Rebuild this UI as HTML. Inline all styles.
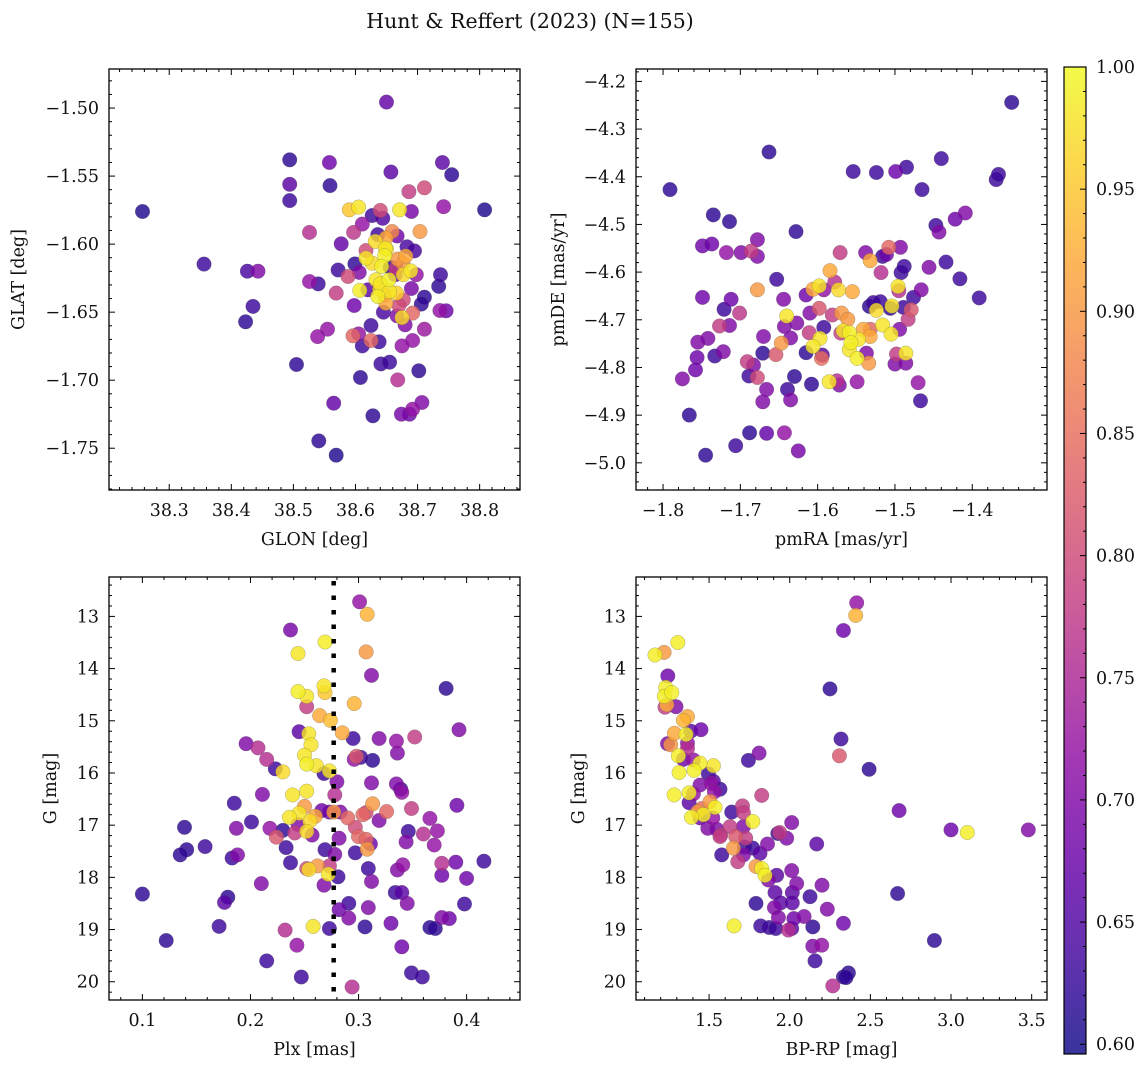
<!DOCTYPE html>
<html><head><meta charset="utf-8">
<style>
html,body{margin:0;padding:0;background:#fff;}
svg{display:block;font-family:"DejaVu Serif","Liberation Serif",serif;}
</style></head>
<body>
<svg id="fig" width="1148" height="1067" viewBox="0 0 1148 1067" xmlns="http://www.w3.org/2000/svg">
<rect width="1148" height="1067" fill="#fff"/>
<text x="530" y="28" font-size="20.5" text-anchor="middle" fill="#111">Hunt &amp; Reffert (2023) (N=155)</text>
<g id="layer"></g>
</svg>
<script>
// ---------- Panel 1: GLON vs GLAT ----------
const p1Glon=[38.257,38.650,38.494,38.558,38.494,38.559,38.494,38.657,38.740,38.755,38.686,38.711,38.808,38.742,38.690,38.671,38.590,38.605,38.640,38.627,38.644,38.611,38.526,38.597,38.659,38.704,38.667,38.577,38.632,38.649,38.636,38.683,38.695,38.617,38.650,38.681,38.647,38.617,38.627,38.599,38.642,38.656,38.676,38.572,38.606,38.689,38.698,38.737,38.588,38.664,38.677,38.526,38.540,38.633,38.654,38.640,38.734,38.690,38.607,38.620,38.639,38.655,38.569,38.666,38.636,38.711,38.677,38.649,38.598,38.706,38.645,38.736,38.746,38.667,38.675,38.692,38.680,38.625,38.711,38.555,38.539,38.596,38.605,38.625,38.638,38.611,38.692,38.675,38.505,38.641,38.655,38.702,38.608,38.668,38.565,38.707,38.692,38.674,38.687,38.628,38.541,38.569,38.356,38.426,38.443,38.435,38.423,38.648,38.668,38.647,38.670,38.665];
const p1Glat=[-1.576,-1.4956,-1.538,-1.540,-1.556,-1.557,-1.568,-1.547,-1.540,-1.549,-1.5615,-1.5586,-1.5748,-1.5725,-1.576,-1.5748,-1.5748,-1.5728,-1.5752,-1.579,-1.581,-1.5853,-1.5914,-1.5914,-1.5907,-1.5907,-1.594,-1.5998,-1.598,-1.5956,-1.593,-1.602,-1.605,-1.6047,-1.6037,-1.6088,-1.6086,-1.6103,-1.614,-1.6145,-1.6164,-1.617,-1.614,-1.619,-1.6208,-1.6196,-1.6225,-1.6225,-1.6238,-1.6225,-1.6225,-1.6275,-1.6292,-1.6262,-1.6262,-1.6292,-1.6311,-1.6326,-1.634,-1.6336,-1.633,-1.6348,-1.636,-1.636,-1.6385,-1.639,-1.641,-1.6434,-1.6451,-1.6441,-1.65,-1.6488,-1.649,-1.6527,-1.654,-1.6507,-1.6593,-1.6598,-1.6625,-1.6625,-1.668,-1.6674,-1.666,-1.6708,-1.6718,-1.6748,-1.6708,-1.6748,-1.6885,-1.688,-1.6868,-1.6931,-1.698,-1.6998,-1.7169,-1.7164,-1.7213,-1.725,-1.725,-1.7262,-1.7446,-1.7551,-1.6147,-1.6199,-1.6199,-1.6458,-1.6571,-1.603,-1.611,-1.6375,-1.645,-1.618];
const p1Prob=[.61,.67,.62,.68,.66,.62,.63,.66,.66,.62,.78,.80,.61,.72,.69,.98,.95,.98,.80,.63,.65,.72,.76,.77,.88,.90,.68,.67,.97,.92,.63,.64,.64,.80,.98,.92,.99,.98,.97,.62,.99,.62,.90,.63,.70,.98,.72,.63,.80,.68,.97,.72,.63,.98,.99,.98,.62,.69,.99,.66,.97,.98,.78,.96,.99,.62,.80,.92,.68,.62,.64,.72,.68,.70,.97,.84,.70,.63,.73,.72,.72,.84,.72,.84,.63,.63,.72,.72,.62,.63,.63,.62,.62,.76,.67,.70,.72,.69,.68,.62,.62,.61,.63,.64,.70,.63,.62,.98,.90,.90,.80,.78];
const p1XTicks=[38.3,38.4,38.5,38.6,38.7,38.8];
const p1YTicks=[-1.50,-1.55,-1.60,-1.65,-1.70,-1.75];

// ---------- Panel 2: pmRA vs pmDE ----------
const p2PmRA=[-1.791,-1.663,-1.349,-1.735,-1.714,-1.628,-1.749,-1.737,-1.718,-1.699,-1.686,-1.678,-1.678,-1.653,-1.678,-1.749,-1.712,-1.721,-1.701,-1.727,-1.714,-1.742,-1.755,-1.722,-1.733,-1.756,-1.758,-1.775,-1.766,-1.745,-1.706,-1.688,-1.666,-1.643,-1.625,-1.691,-1.683,-1.671,-1.670,-1.689,-1.678,-1.666,-1.671,-1.654,-1.647,-1.644,-1.643,-1.640,-1.635,-1.639,-1.635,-1.630,-1.627,-1.615,-1.610,-1.611,-1.615,-1.608,-1.606,-1.598,-1.598,-1.597,-1.606,-1.592,-1.594,-1.595,-1.592,-1.584,-1.585,-1.581,-1.578,-1.573,-1.572,-1.575,-1.571,-1.569,-1.570,-1.567,-1.561,-1.555,-1.559,-1.559,-1.557,-1.549,-1.549,-1.547,-1.554,-1.541,-1.538,-1.537,-1.532,-1.534,-1.532,-1.532,-1.533,-1.528,-1.524,-1.524,-1.519,-1.516,-1.518,-1.516,-1.511,-1.508,-1.506,-1.504,-1.505,-1.500,-1.499,-1.498,-1.496,-1.495,-1.494,-1.493,-1.492,-1.489,-1.488,-1.486,-1.486,-1.485,-1.483,-1.479,-1.476,-1.470,-1.467,-1.466,-1.465,-1.456,-1.447,-1.443,-1.440,-1.434,-1.422,-1.409,-1.416,-1.391,-1.369,-1.366];
const p2PmDE=[-4.427,-4.348,-4.244,-4.480,-4.494,-4.515,-4.545,-4.541,-4.559,-4.559,-4.556,-4.532,-4.567,-4.615,-4.637,-4.653,-4.657,-4.678,-4.686,-4.713,-4.712,-4.739,-4.747,-4.767,-4.776,-4.779,-4.805,-4.824,-4.900,-4.984,-4.964,-4.937,-4.938,-4.937,-4.975,-4.788,-4.795,-4.770,-4.735,-4.818,-4.821,-4.846,-4.872,-4.773,-4.749,-4.657,-4.714,-4.692,-4.738,-4.846,-4.868,-4.819,-4.707,-4.648,-4.686,-4.727,-4.769,-4.835,-4.636,-4.629,-4.676,-4.739,-4.756,-4.716,-4.774,-4.781,-4.637,-4.597,-4.830,-4.690,-4.621,-4.637,-4.837,-4.828,-4.559,-4.686,-4.728,-4.723,-4.699,-4.641,-4.727,-4.763,-4.748,-4.830,-4.781,-4.741,-4.389,-4.720,-4.559,-4.770,-4.576,-4.791,-4.735,-4.720,-4.672,-4.664,-4.391,-4.680,-4.662,-4.711,-4.601,-4.567,-4.563,-4.548,-4.676,-4.671,-4.730,-4.793,-4.389,-4.772,-4.630,-4.639,-4.720,-4.548,-4.601,-4.674,-4.588,-4.770,-4.791,-4.380,-4.699,-4.679,-4.653,-4.832,-4.870,-4.637,-4.427,-4.590,-4.502,-4.516,-4.362,-4.579,-4.489,-4.476,-4.614,-4.654,-4.406,-4.395];
const p2Prob=[.62,.62,.62,.62,.62,.62,.68,.68,.72,.70,.78,.70,.70,.63,.90,.68,.68,.63,.77,.78,.70,.70,.70,.70,.63,.68,.68,.70,.62,.62,.63,.62,.67,.72,.69,.78,.70,.62,.70,.63,.80,.70,.70,.82,.90,.70,.70,.98,.70,.63,.70,.62,.70,.68,.70,.78,.62,.62,.92,.98,.82,.98,.98,.63,.66,.85,.72,.92,.98,.78,.76,.97,.70,.76,.78,.90,.78,.98,.90,.92,.99,.98,.99,.72,.99,.98,.63,.92,.70,.70,.92,.90,.92,.84,.62,.63,.63,.97,.63,.98,.76,.63,.68,.84,.62,.98,.98,.70,.68,.78,.98,.76,.70,.70,.63,.63,.63,.98,.70,.63,.78,.82,.63,.72,.63,.70,.63,.70,.63,.70,.63,.63,.68,.70,.63,.63,.63,.63];
const p2XTicks=[-1.8,-1.7,-1.6,-1.5,-1.4];
const p2YTicks=[-4.2,-4.3,-4.4,-4.5,-4.6,-4.7,-4.8,-4.9,-5.0];

// ---------- Panel 3: Plx vs G ----------
const p3Plx=[0.301,0.308,0.237,0.269,0.244,0.307,0.312,0.381,0.244,0.252,0.268,0.269,0.296,0.252,0.264,0.274,0.285,0.245,0.254,0.256,0.295,0.319,0.335,0.352,0.393,0.196,0.207,0.250,0.252,0.261,0.215,0.223,0.230,0.268,0.273,0.298,0.302,0.296,0.313,0.336,0.280,0.312,0.335,0.339,0.340,0.278,0.211,0.185,0.239,0.252,0.250,0.313,0.326,0.349,0.391,0.266,0.273,0.277,0.283,0.304,0.307,0.319,0.290,0.260,0.255,0.245,0.236,0.201,0.187,0.218,0.230,0.241,0.244,0.252,0.257,0.224,0.297,0.300,0.307,0.282,0.311,0.308,0.346,0.366,0.360,0.373,0.344,0.370,0.139,0.141,0.135,0.158,0.183,0.188,0.233,0.237,0.269,0.278,0.297,0.252,0.254,0.262,0.273,0.272,0.281,0.309,0.312,0.268,0.210,0.336,0.341,0.377,0.390,0.416,0.377,0.400,0.334,0.340,0.345,0.398,0.100,0.179,0.176,0.291,0.282,0.309,0.291,0.377,0.384,0.330,0.171,0.258,0.273,0.306,0.366,0.371,0.232,0.122,0.243,0.340,0.215,0.349,0.359,0.247,0.294];
const p3G=[12.72,12.96,13.26,13.49,13.71,13.68,14.13,14.38,14.44,14.53,14.33,14.46,14.67,14.73,14.90,14.99,15.23,15.21,15.25,15.46,15.34,15.34,15.39,15.31,15.17,15.44,15.52,15.66,15.83,15.86,15.74,15.92,15.98,16.01,15.96,15.68,15.70,15.74,15.76,15.62,16.17,16.19,16.21,16.31,16.37,16.42,16.41,16.58,16.42,16.35,16.64,16.59,16.74,16.68,16.62,16.72,16.75,16.75,16.75,16.80,16.76,16.91,16.86,16.83,16.92,16.77,16.85,16.94,17.06,17.06,17.10,17.15,16.99,17.12,17.19,17.23,17.04,17.22,17.27,17.25,17.36,17.46,17.12,16.87,17.17,17.11,17.32,17.38,17.04,17.47,17.57,17.41,17.63,17.57,17.43,17.72,17.47,17.56,17.53,17.83,17.85,17.78,17.78,17.94,17.99,17.83,18.08,18.15,18.12,17.86,17.76,17.73,17.71,17.69,17.96,18.02,18.29,18.29,18.50,18.51,18.32,18.38,18.48,18.50,18.62,18.58,18.78,18.77,18.79,18.88,18.94,18.94,18.98,18.95,18.96,18.98,19.01,19.21,19.30,19.33,19.60,19.83,19.91,19.91,20.10];
const p3Prob=[.72,.93,.69,.99,.98,.90,.70,.62,.99,.98,.98,.95,.93,.78,.92,.94,.92,.66,.98,.98,.63,.70,.72,.78,.70,.70,.76,.98,.99,.98,.76,.63,.97,.63,.98,.82,.63,.72,.62,.70,.70,.70,.70,.63,.72,.76,.70,.63,.98,.98,.90,.90,.84,.78,.68,.68,.68,.90,.70,.84,.80,.70,.84,.92,.97,.98,.98,.63,.70,.72,.62,.78,.70,.97,.70,.82,.80,.84,.84,.70,.68,.90,.63,.72,.76,.72,.70,.72,.62,.62,.62,.63,.63,.70,.63,.63,.63,.70,.63,.80,.97,.90,.78,.98,.63,.63,.70,.70,.70,.70,.72,.76,.68,.63,.68,.68,.63,.66,.70,.63,.62,.62,.66,.63,.68,.70,.70,.70,.68,.68,.63,.98,.63,.62,.62,.62,.76,.62,.72,.68,.63,.63,.63,.63,.76];
const p3XTicks=[0.1,0.2,0.3,0.4];
const p3YTicks=[13,14,15,16,17,18,19,20];
const p3PlxMedian=[0.277];

// ---------- Panel 4: BP-RP vs G ----------
const p4Color=[1.165,1.221,1.306,2.409,2.415,2.333,2.250,1.244,1.231,1.223,1.269,1.238,1.227,1.295,1.366,1.341,1.285,1.357,1.386,1.450,1.242,1.262,1.366,1.366,1.310,1.341,1.403,1.444,1.314,1.407,1.527,1.496,1.527,1.568,1.444,1.512,1.533,1.403,1.376,1.283,1.376,1.506,1.537,1.455,1.430,1.465,1.391,1.444,1.523,1.640,1.707,1.713,1.771,1.810,1.744,1.826,1.492,1.548,1.572,1.630,1.713,1.568,1.665,1.727,1.651,1.578,1.719,1.771,1.713,1.678,1.816,1.862,1.926,1.938,1.981,2.012,2.167,1.791,1.826,1.847,1.868,1.919,2.012,2.043,1.909,2.016,1.791,1.944,2.016,2.126,2.200,2.233,1.905,1.930,2.025,2.089,1.820,1.873,1.914,1.992,2.012,2.143,1.655,2.333,2.143,2.198,2.157,2.333,2.364,2.349,2.267,2.318,2.308,2.492,2.678,3.000,3.101,3.479,2.669,2.897];
const p4G=[13.74,13.69,13.50,12.98,12.74,13.27,14.39,14.14,14.36,14.53,14.46,14.69,14.74,14.73,14.92,14.99,15.24,15.26,15.20,15.17,15.44,15.46,15.43,15.53,15.67,15.74,15.75,15.81,15.99,15.95,15.86,16.02,16.16,16.31,16.23,16.20,16.36,16.40,16.38,16.42,16.57,16.55,16.66,16.68,16.74,16.80,16.85,16.86,16.86,16.75,16.63,16.76,16.93,15.62,15.76,16.43,17.06,17.08,17.19,17.03,17.03,17.22,17.22,17.25,17.44,17.57,17.42,17.44,17.57,17.70,17.54,17.36,17.16,17.14,17.25,16.95,17.36,17.79,17.83,17.96,18.05,17.96,17.87,18.12,18.29,18.29,18.50,18.49,18.49,18.37,18.15,18.61,18.58,18.77,18.79,18.75,18.93,18.96,18.98,19.01,18.98,18.95,18.93,18.88,19.32,19.30,19.60,19.91,19.83,19.92,20.08,15.35,15.67,15.93,16.72,17.09,17.14,17.09,18.31,19.21];
const p4Prob=[.99,.90,.99,.93,.72,.68,.62,.68,.99,.99,.99,.92,.78,.70,.92,.93,.92,.99,.66,.68,.70,.90,.72,.76,.99,.68,.72,.99,.99,.99,.98,.63,.66,.63,.70,.72,.72,.72,.99,.99,.66,.90,.99,.85,.90,.99,.99,.68,.72,.63,.78,.78,.99,.70,.63,.78,.70,.70,.78,.78,.70,.78,.82,.78,.90,.63,.63,.63,.70,.78,.66,.70,.63,.78,.70,.70,.66,.90,.99,.99,.70,.66,.70,.70,.66,.66,.62,.66,.66,.63,.70,.70,.70,.70,.68,.70,.63,.63,.63,.76,.66,.62,.99,.68,.70,.72,.63,.62,.62,.62,.76,.63,.82,.62,.68,.68,.99,.70,.62,.62];
const p4XTicks=[1.5,2.0,2.5,3.0,3.5];
const p4YTicks=[13,14,15,16,17,18,19,20];

// ---------- Colorbar ----------
const cbTicks=[0.60,0.65,0.70,0.75,0.80,0.85,0.90,0.95,1.00];
const cbRange=[0.596,1.0];

// ---------- rendering ----------
const NS="http://www.w3.org/2000/svg";
const layer=document.getElementById('layer');
const FS=17.5;
function mk(tag,attrs,parent){const e=document.createElementNS(NS,tag);for(const k in attrs)e.setAttribute(k,attrs[k]);(parent||layer).appendChild(e);return e;}
const plasma=[[13,8,135],[65,4,157],[106,0,168],[143,13,164],[177,42,144],[204,71,120],[225,100,98],[242,132,75],[252,166,54],[252,206,37],[240,249,33]];
function cmap(v){let t=(v-cbRange[0])/(cbRange[1]-cbRange[0]);t=Math.max(0,Math.min(1,t));const s=t*10,i=Math.min(9,Math.floor(s)),f=s-i;const a=plasma[i],b=plasma[i+1];return `rgb(${Math.round(a[0]+(b[0]-a[0])*f)},${Math.round(a[1]+(b[1]-a[1])*f)},${Math.round(a[2]+(b[2]-a[2])*f)})`;}
function lin(d0,d1,r0,r1){return v=>r0+(v-d0)*(r1-r0)/(d1-d0);}
function fmt(v,dec){const s=Math.abs(v).toFixed(dec);return (v<0?'\u2212':'')+s;}

function panel(cfg){
  const g=mk('g',{});
  
  
  const {x0,x1,y0,y1}=cfg.box;
  const sx=lin(cfg.xd[0],cfg.xd[1],x0,x1), sy=lin(cfg.yd[0],cfg.yd[1],y0,y1);
  const n=Math.min(cfg.xs.length,cfg.ys.length,cfg.ps.length);
  const idx=[...Array(n).keys()].sort((a,b)=>cfg.ps[a]-cfg.ps[b]);
  const pg=mk('g',{},g);
  
  
  const clip=mk('clipPath',{id:'clip-'+cfg.name},g);
  mk('rect',{x:x0,y:y0,width:x1-x0,height:y1-y0},clip);
  pg.setAttribute('clip-path','url(#clip-'+cfg.name+')');
  for(const i of idx){
    const c=mk('circle',{cx:sx(cfg.xs[i]).toFixed(1),cy:sy(cfg.ys[i]).toFixed(1),r:7.3,fill:cmap(cfg.ps[i]),'fill-opacity':0.82,stroke:'#555','stroke-opacity':0.45,'stroke-width':0.5},pg);
    
    
  }
  if(cfg.vline){
    const l=mk('line',{x1:sx(cfg.vline[0]),x2:sx(cfg.vline[0]),y1:y0+4,y2:y1,stroke:'#000','stroke-width':4.5,'stroke-dasharray':'4.5,10'},g);
    
    
  }
  const tk=mk('g',{stroke:'#000','stroke-width':1},g);
  
  
  const xlo=Math.min(cfg.xd[0],cfg.xd[1]),xhi=Math.max(cfg.xd[0],cfg.xd[1]);
  for(let k=Math.ceil(xlo/cfg.xminor-1e-6);k*cfg.xminor<=xhi+1e-9;k++){const v=k*cfg.xminor,x=sx(v);
    const major=cfg.xt.some(t=>Math.abs(t-v)<cfg.xminor/3);const L=major?6:3;
    mk('line',{x1:x,x2:x,y1:y1,y2:y1-L},tk);mk('line',{x1:x,x2:x,y1:y0,y2:y0+L},tk);}
  const ylo=Math.min(cfg.yd[0],cfg.yd[1]),yhi=Math.max(cfg.yd[0],cfg.yd[1]);
  for(let k=Math.ceil(ylo/cfg.yminor-1e-6);k*cfg.yminor<=yhi+1e-9;k++){const v=k*cfg.yminor,y=sy(v);
    const major=cfg.yt.some(t=>Math.abs(t-v)<cfg.yminor/3);const L=major?6:3;
    mk('line',{x1:x0,x2:x0+L,y1:y,y2:y},tk);mk('line',{x1:x1,x2:x1-L,y1:y,y2:y},tk);}
  const fr=mk('rect',{x:x0,y:y0,width:x1-x0,height:y1-y0,fill:'none',stroke:'#000','stroke-width':1.3},g);
  
  
  for(const t of cfg.xt){const e=mk('text',{x:sx(t),y:y1+26,'font-size':FS,'text-anchor':'middle',fill:'#111'},g);e.textContent=fmt(t,cfg.xdec);
    
    }
  for(const t of cfg.yt){const e=mk('text',{x:x0-10,y:sy(t)+6,'font-size':FS,'text-anchor':'end',fill:'#111'},g);e.textContent=fmt(t,cfg.ydec);
    
    }
  const xl=mk('text',{x:(x0+x1)/2,y:y1+55,'font-size':FS,'text-anchor':'middle',fill:'#111'},g);xl.textContent=cfg.xlabel;
  
  
  const yl=mk('text',{x:0,y:0,'font-size':FS,'text-anchor':'middle',fill:'#111',transform:`translate(${cfg.ylx},${(y0+y1)/2}) rotate(-90)`},g);yl.textContent=cfg.ylabel;
  
  
}

panel({name:'panel-glon-glat',box:{x0:109,x1:520,y0:69,y1:490},xd:[38.203,38.865],yd:[-1.4713,-1.7807],xs:p1Glon,ys:p1Glat,ps:p1Prob,xt:p1XTicks,yt:p1YTicks,xminor:0.02,yminor:0.01,xdec:1,ydec:2,xlabel:'GLON [deg]',ylabel:'GLAT [deg]',ylx:24});
panel({name:'panel-pm',box:{x0:636,x1:1047,y0:69,y1:490},xd:[-1.835,-1.3033],yd:[-4.174,-5.057],xs:p2PmRA,ys:p2PmDE,ps:p2Prob,xt:p2XTicks,yt:p2YTicks,xminor:0.02,yminor:0.02,xdec:1,ydec:1,xlabel:'pmRA [mas/yr]',ylabel:'pmDE [mas/yr]',ylx:564});
panel({name:'panel-plx-g',box:{x0:109,x1:520,y0:577,y1:1000},xd:[0.0691,0.4494],yd:[12.245,20.35],xs:p3Plx,ys:p3G,ps:p3Prob,xt:p3XTicks,yt:p3YTicks,xminor:0.02,yminor:0.2,xdec:1,ydec:0,xlabel:'Plx [mas]',ylabel:'G [mag]',ylx:56,vline:p3PlxMedian});
panel({name:'panel-cmd',box:{x0:636,x1:1047,y0:577,y1:1000},xd:[1.047,3.595],yd:[12.245,20.35],xs:p4Color,ys:p4G,ps:p4Prob,xt:p4XTicks,yt:p4YTicks,xminor:0.1,yminor:0.2,xdec:1,ydec:0,xlabel:'BP-RP [mag]',ylabel:'G [mag]',ylx:584});

(function(){
  const cx0=1064,cx1=1086,cy0=67,cy1=1054;
  const sc=lin(cbRange[0],cbRange[1],cy1,cy0);
  const g=mk('g',{});
  
  
  const defs=mk('defs',{},g);
  const lg=mk('linearGradient',{id:'cbgrad',x1:0,y1:1,x2:0,y2:0},defs);
  for(let i=0;i<=20;i++){const v=cbRange[0]+(cbRange[1]-cbRange[0])*i/20;mk('stop',{offset:(i/20),'stop-color':cmap(v),'stop-opacity':0.82},lg);}
  const r=mk('rect',{x:cx0,y:cy0,width:cx1-cx0,height:cy1-cy0,fill:'url(#cbgrad)',stroke:'#000','stroke-width':1.2},g);
  
  
  for(let k=60;k<=100;k++){const v=k/100;const y=sc(v);const major=k%5===0;
    mk('line',{x1:cx1,x2:cx1-(major?6:3),y1:y,y2:y,stroke:'#000','stroke-width':1},g);}
  for(const t of cbTicks){const e=mk('text',{x:cx1+10,y:sc(t)+6,'font-size':FS,fill:'#111'},g);e.textContent=t.toFixed(2);
    
    }
})();
</script>
</body></html>
